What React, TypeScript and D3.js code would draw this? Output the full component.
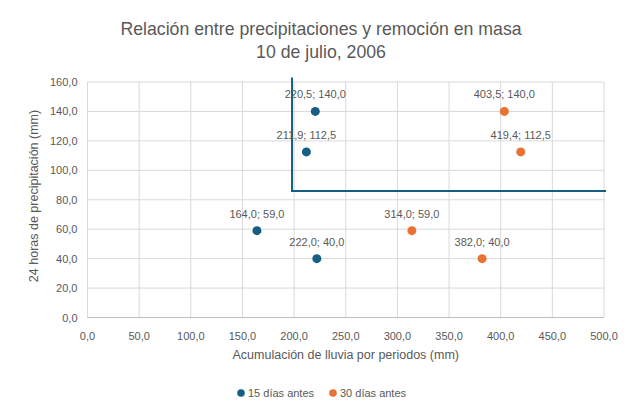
import * as d3 from 'd3';
import React, { useEffect, useRef } from "react";

// 15 días antes
const blueX = [220.5, 211.9, 164.0, 222.0];
const blueY = [140.0, 112.5, 59.0, 40.0];
// 30 días antes
const orangeX = [403.5, 419.4, 314.0, 382.0];
const orangeY = [140.0, 112.5, 59.0, 40.0];
// umbral
const limitX = [198, 198, 502];
const limitY = [163, 86, 86];

const xTicks = [0, 50, 100, 150, 200, 250, 300, 350, 400, 450, 500];
const yTicks = [0, 20, 40, 60, 80, 100, 120, 140, 160];
const titleLines = ["Relación entre precipitaciones y remoción en masa", "10 de julio, 2006"];
const seriesNames = ["15 días antes", "30 días antes"];

const width = 627;
const height = 417;
const margin = { left: 87.5, right: 23, top: 82, bottom: 99.5 };
const fontFam = '"Liberation Sans", Arial, sans-serif';
const textGray = '#595959';
const blue = '#156082';
const orange = '#E97132';

const fmt = (v: number) => d3.format(".1f")(v).replace(".", ",");

const App = () => {
  const svgRef = useRef<SVGSVGElement>(null);

  useEffect(() => {
    const svg = d3.select(svgRef.current);
    svg.selectAll('*').remove();

    const innerW = width - margin.left - margin.right;
    const innerH = height - margin.top - margin.bottom;
    const x = d3.scaleLinear().domain([0, 500]).range([0, innerW]);
    const y = d3.scaleLinear().domain([0, 160]).range([innerH, 0]);

    // chart border
    svg.append("rect")
      .attr("x", 6.5).attr("y", 3.5)
      .attr("width", 640).attr("height", 411)
      .attr("fill", "#fff").attr("stroke", "#c4c4c4").attr("stroke-width", 1.2);

    titleLines.forEach((t, i) => {
      svg.append("text")
        .attr("x", 321).attr("y", 35 + i * 23)
        .attr("text-anchor", "middle")
        .attr("font-family", fontFam)
        .attr("font-size", 17.7)
        .attr("fill", textGray)
        .text(t);
    });

    const g = svg.append("g").attr("transform", `translate(${margin.left},${margin.top})`);

    // grid
    g.selectAll(".vgrid").data(xTicks).enter().append("line")
      .attr("x1", d => x(d)).attr("x2", d => x(d))
      .attr("y1", 0).attr("y2", innerH)
      .attr("stroke", "#d9d9d9").attr("stroke-width", 1);
    g.selectAll(".hgrid").data(yTicks).enter().append("line")
      .attr("x1", 0).attr("x2", innerW)
      .attr("y1", d => y(d)).attr("y2", d => y(d))
      .attr("stroke", "#d9d9d9").attr("stroke-width", 1);
    g.append("line")
      .attr("x1", 0).attr("x2", innerW)
      .attr("y1", innerH).attr("y2", innerH)
      .attr("stroke", "#bfbfbf");

    // tick labels
    g.selectAll(".xlab").data(xTicks).enter().append("text")
      .attr("x", d => x(d)).attr("y", innerH + 22)
      .attr("text-anchor", "middle")
      .attr("font-family", fontFam).attr("font-size", 11)
      .attr("fill", textGray)
      .text(d => fmt(d));
    g.selectAll(".ylab").data(yTicks).enter().append("text")
      .attr("x", -10).attr("y", d => y(d) + 4)
      .attr("text-anchor", "end")
      .attr("font-family", fontFam).attr("font-size", 11)
      .attr("fill", textGray)
      .text(d => fmt(d));

    // axis titles
    svg.append("text")
      .attr("x", margin.left + innerW / 2).attr("y", 359)
      .attr("text-anchor", "middle")
      .attr("font-family", fontFam).attr("font-size", 12.5)
      .attr("fill", textGray)
      .text("Acumulación de lluvia por periodos (mm)");
    svg.append("text")
      .attr("transform", `translate(38,196) rotate(-90)`)
      .attr("text-anchor", "middle")
      .attr("font-family", fontFam).attr("font-size", 12.5)
      .attr("fill", textGray)
      .text("24 horas de precipitación (mm)");

    // threshold line
    const line = d3.line<number>().x(i => x(limitX[i])).y(i => y(limitY[i]));
    g.append("path")
      .attr("d", line(limitX.map((_, i) => i)))
      .attr("fill", "none")
      .attr("stroke", blue)
      .attr("stroke-width", 2);

    const series = [
      { xs: blueX, ys: blueY, color: blue },
      { xs: orangeX, ys: orangeY, color: orange },
    ];
    series.forEach(s => {
      const pts = s.xs.map((v, i) => ({ x: v, y: s.ys[i] }));
      g.selectAll(null).data(pts).enter().append("circle")
        .attr("cx", d => x(d.x)).attr("cy", d => y(d.y))
        .attr("r", 4.5)
        .attr("fill", s.color);
      g.selectAll(null).data(pts).enter().append("text")
        .attr("x", d => x(d.x)).attr("y", d => y(d.y) - 13)
        .attr("text-anchor", "middle")
        .attr("font-family", fontFam).attr("font-size", 11)
        .attr("fill", textGray)
        .text(d => `${fmt(d.x)}; ${fmt(d.y)}`);
    });

    // legend
    const legendPos = [241, 333];
    seriesNames.forEach((name, i) => {
      svg.append("circle")
        .attr("cx", legendPos[i]).attr("cy", 393)
        .attr("r", 3.8)
        .attr("fill", series[i].color);
      svg.append("text")
        .attr("x", legendPos[i] + 7).attr("y", 397)
        .attr("font-family", fontFam).attr("font-size", 11)
        .attr("fill", textGray)
        .text(name);
    });
  }, []);

  return (
    <div style={{ margin: -8 }}>
      <svg ref={svgRef} width={width} height={height} style={{ display: 'block' }} />
    </div>
  );
};

export default App;
